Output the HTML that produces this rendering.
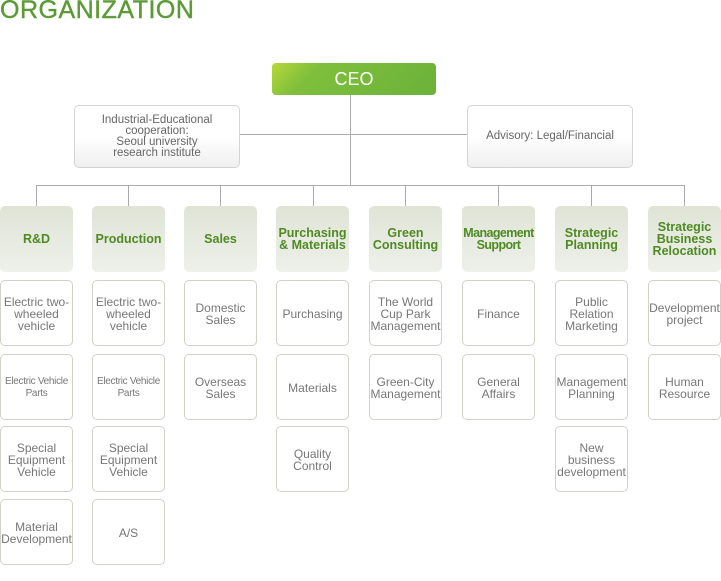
<!DOCTYPE html>
<html><head><meta charset="utf-8"><style>
body{margin:0;width:721px;height:581px;background:#fff;position:relative;overflow:hidden;font-family:"Liberation Sans",sans-serif}
.a{position:absolute}
.t{left:0;top:-4px;font-size:25px;color:#5b9a36;letter-spacing:0.5px;-webkit-text-stroke:0.4px #5b9a36}
.l{background:#aaa}
.ceo{left:272px;top:63px;width:164px;height:32px;border-radius:4px;background:linear-gradient(135deg,#b8d83a 0%,#7fbf3c 25%,#6bb23a 100%);color:#fff;font-size:18px;display:flex;align-items:center;justify-content:center}
.ad{top:105px;width:164px;height:61px;border:1px solid #d4d4d4;border-radius:5px;background:linear-gradient(#fff 50%,#efefef);color:#666;font-size:11.5px;line-height:11px;display:flex;align-items:center;justify-content:center;text-align:center}
.h{top:206px;width:73px;height:66px;border-radius:5px;background:linear-gradient(#dfe4d6,#eef0ea);color:#4f8a23;font-weight:bold;font-size:12.5px;line-height:12px;display:flex;align-items:center;justify-content:center;text-align:center}
.s{width:71px;border:1px solid #d2d0c8;border-radius:5px;background:#fff;color:#777;font-size:12px;line-height:12px;display:flex;align-items:center;justify-content:center;text-align:center;padding-top:2px;box-sizing:content-box;height:62px}
.sm{font-size:10px;letter-spacing:-0.3px;white-space:nowrap}
</style></head><body>
<div class="a t">ORGANIZATION</div>
<div class="a l" style="left:350px;top:95px;width:1px;height:90px"></div>
<div class="a l" style="left:240px;top:134px;width:227px;height:1px"></div>
<div class="a l" style="left:36px;top:185px;width:649px;height:1px"></div>
<div class="a l" style="left:36px;top:185px;width:1px;height:21px"></div>
<div class="a l" style="left:128px;top:185px;width:1px;height:21px"></div>
<div class="a l" style="left:220px;top:185px;width:1px;height:21px"></div>
<div class="a l" style="left:313px;top:185px;width:1px;height:21px"></div>
<div class="a l" style="left:405px;top:185px;width:1px;height:21px"></div>
<div class="a l" style="left:498px;top:185px;width:1px;height:21px"></div>
<div class="a l" style="left:591px;top:185px;width:1px;height:21px"></div>
<div class="a l" style="left:684px;top:185px;width:1px;height:21px"></div>
<div class="a ceo">CEO</div>
<div class="a ad" style="left:74px">Industrial-Educational<br>cooperation:<br>Seoul university<br>research institute</div>
<div class="a ad" style="left:467px">Advisory: Legal/Financial</div>

<div class="a h" style="left:0">R&amp;D</div>
<div class="a h" style="left:92px">Production</div>
<div class="a h" style="left:184px">Sales</div>
<div class="a h" style="left:276px">Purchasing<br>&amp; Materials</div>
<div class="a h" style="left:369px">Green<br>Consulting</div>
<div class="a h" style="left:462px;letter-spacing:-0.6px">Management<br>Support</div>
<div class="a h" style="left:555px">Strategic<br>Planning</div>
<div class="a h" style="left:648px">Strategic<br>Business<br>Relocation</div>

<div class="a s" style="left:0;top:280px">Electric two-<br>wheeled<br>vehicle</div>
<div class="a s sm" style="left:0;top:354px">Electric Vehicle<br>Parts</div>
<div class="a s" style="left:0;top:426px">Special<br>Equipment<br>Vehicle</div>
<div class="a s" style="left:0;top:499px">Material<br>Development</div>

<div class="a s" style="left:92px;top:280px">Electric two-<br>wheeled<br>vehicle</div>
<div class="a s sm" style="left:92px;top:354px">Electric Vehicle<br>Parts</div>
<div class="a s" style="left:92px;top:426px">Special<br>Equipment<br>Vehicle</div>
<div class="a s" style="left:92px;top:499px">A/S</div>

<div class="a s" style="left:184px;top:280px">Domestic<br>Sales</div>
<div class="a s" style="left:184px;top:354px">Overseas<br>Sales</div>

<div class="a s" style="left:276px;top:280px">Purchasing</div>
<div class="a s" style="left:276px;top:354px">Materials</div>
<div class="a s" style="left:276px;top:426px">Quality<br>Control</div>

<div class="a s" style="left:369px;top:280px">The World<br>Cup Park<br>Management</div>
<div class="a s" style="left:369px;top:354px">Green-City<br>Management</div>

<div class="a s" style="left:462px;top:280px">Finance</div>
<div class="a s" style="left:462px;top:354px">General<br>Affairs</div>

<div class="a s" style="left:555px;top:280px">Public<br>Relation<br>Marketing</div>
<div class="a s" style="left:555px;top:354px">Management<br>Planning</div>
<div class="a s" style="left:555px;top:426px">New<br>business<br>development</div>

<div class="a s" style="left:648px;top:280px">Development<br>project</div>
<div class="a s" style="left:648px;top:354px">Human<br>Resource</div>
</body></html>
